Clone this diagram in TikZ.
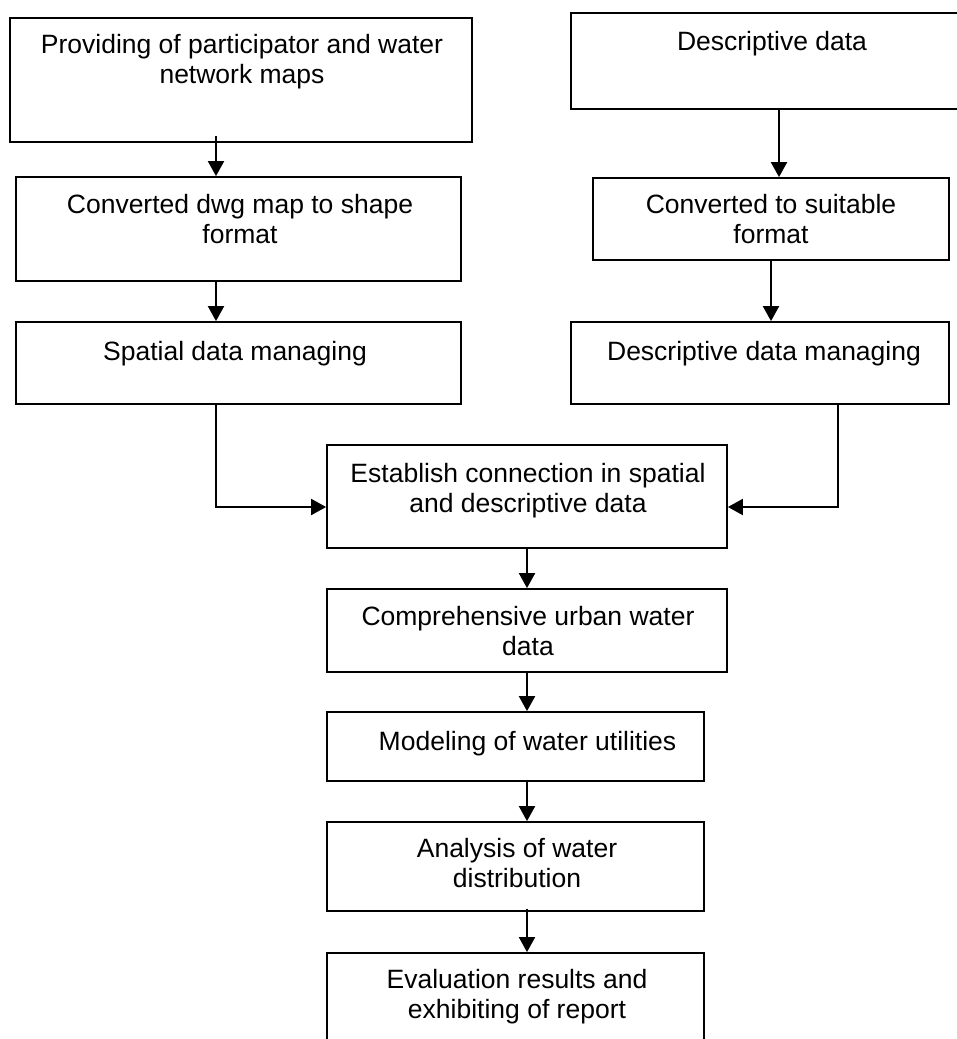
\documentclass[tikz,border=0pt]{standalone}
\usepackage{fontspec}
\setmainfont{Liberation Sans}
\usetikzlibrary{arrows.meta}
\begin{document}
\begin{tikzpicture}[x=1pt,y=-1pt,
  box/.style={draw, line width=1.8pt, inner sep=0pt},
  txt/.style={font=\fontsize{26.5}{30}\selectfont, align=center, inner sep=0pt, anchor=north},
  arr/.style={line width=2pt, -{Triangle[width=16pt,length=15pt]}}]
\useasboundingbox (0,0) rectangle (957,1039);
\clip (0,0) rectangle (957,1039);
% boxes
\node[box, minimum width=462pt, minimum height=124pt] (b1) at (241,80) {};
\node[box, minimum width=404pt, minimum height=96pt] (b2) at (773,61) {};
\node[box, minimum width=445pt, minimum height=104pt] (b3) at (238.5,229) {};
\node[box, minimum width=356pt, minimum height=82pt] (b4) at (771,219) {};
\node[box, minimum width=445pt, minimum height=82pt] (b5) at (238.5,363) {};
\node[box, minimum width=378pt, minimum height=82pt] (b6) at (760,363) {};
\node[box, minimum width=400pt, minimum height=103pt] (b7) at (527,496.5) {};
\node[box, minimum width=400pt, minimum height=83pt] (b8) at (527,630.5) {};
\node[box, minimum width=377pt, minimum height=69pt] (b9) at (515.5,746.5) {};
\node[box, minimum width=377pt, minimum height=89pt] (b10) at (515.5,866.5) {};
\node[box, minimum width=377pt, minimum height=107pt] (b11) at (515.5,1006.5) {};
% texts
\node[txt] (t1) at (242,32) {\strut Providing of participator and water\\network maps};
\node[txt] (t2) at (772,29) {\strut Descriptive data};
\node[txt] (t3) at (240,192) {\strut Converted dwg map to shape\\format};
\node[txt] (t4) at (771,192) {\strut Converted to suitable\\format};
\node[txt] (t5) at (235,339) {\strut Spatial data managing};
\node[txt] (t6) at (764,339) {\strut Descriptive data managing};
\node[txt] (t7) at (528,461) {\strut Establish connection in spatial\\and descriptive data};
\node[txt] (t8) at (528,604) {\strut Comprehensive urban water\\data};
\node[txt] (t9) at (527.5,729) {\strut Modeling of water utilities};
\node[txt] (t10) at (517,836) {\strut Analysis of water\\distribution};
\node[txt] (t11) at (517,967) {\strut Evaluation results and\\exhibiting of report};
% connectors
\draw[arr] ([xshift=-25pt,yshift=7pt]b1.south) -- ([xshift=-25pt]b1.south |- b3.north);
\draw[arr] ([xshift=-22.5pt]b3.south) -- ([xshift=-22.5pt]b3.south |- b5.north);
\draw[arr] ([xshift=6pt]b2.south) -- ([xshift=6pt]b2.south |- b4.north);
\draw[arr] (b4.south) -- (b4.south |- b6.north);
\draw[arr] ([xshift=-22.5pt]b5.south) |- ([yshift=-10.5pt]b7.west);
\draw[arr] ([xshift=78pt]b6.south) |- ([yshift=-10.5pt]b7.east);
\draw[arr] (b7.south) -- (b8.north);
\draw[arr] (b8.south) -- (b8.south |- b9.north);
\draw[arr] ([xshift=11.5pt]b9.south) -- ([xshift=11.5pt]b9.south |- b10.north);
\draw[arr] ([xshift=11.5pt,yshift=3pt]b10.south) -- ([xshift=11.5pt]b10.south |- b11.north);
\end{tikzpicture}
\end{document}
